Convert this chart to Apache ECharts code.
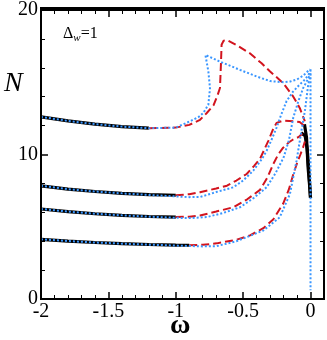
<!DOCTYPE html>
<html>
<head>
    <meta charset="utf-8">
    <title>N vs omega</title>
    <script src="https://cdn.jsdelivr.net/npm/echarts@6/dist/echarts.min.js"></script>
    <style>
        html, body {margin: 0; padding: 0; background: #fff;}
        #main {width: 327px; height: 340px;}
    </style>
</head>
<body>
<div id="main"></div>
<script>
    // axis ranges / tick steps
    var xRange = [-2, 0.1];
    var yRange = [0, 20];
    var xStep = 0.5;
    var yStep = 10;

    // solid black branches (omega, N)
    var black1 = [[-2, 12.6], [-1.8, 12.33], [-1.6, 12.1], [-1.4, 11.93], [-1.2, 11.82]];
    var black2 = [[-2, 7.83], [-1.8, 7.6], [-1.6, 7.44], [-1.4, 7.31], [-1.2, 7.22], [-1.0, 7.18]];
    var black3 = [[-2, 6.23], [-1.8, 6.05], [-1.6, 5.9], [-1.4, 5.79], [-1.2, 5.71], [-1.0, 5.67]];
    var black4 = [[-2, 4.13], [-1.8, 4.01], [-1.6, 3.91], [-1.4, 3.83], [-1.2, 3.77], [-1.0, 3.73], [-0.9, 3.72]];
    var blackTipA = [[-0.045, 12.1], [-0.03, 11.2], [-0.018, 9.1], [-0.008, 8.0], [0.0, 7.0]];
    var blackTipB = [[-0.07, 11.5], [-0.04, 11.3], [-0.025, 10.4], [-0.012, 8.8], [0.0, 7.0]];

    // dashed red branches
    var red1 = [[-1.2, 11.82], [-1.0, 11.86], [-0.9, 12.05], [-0.82, 12.4], [-0.77, 12.87], [-0.72, 13.4],
        [-0.69, 14.1], [-0.672, 14.6], [-0.665, 16.2], [-0.66, 17.6], [-0.645, 17.88], [-0.62, 17.92],
        [-0.548, 17.57], [-0.45, 17.0], [-0.363, 16.31], [-0.3, 15.74], [-0.264, 15.45], [-0.203, 14.94],
        [-0.129, 14.02], [-0.08, 13.22], [-0.042, 12.3]];
    var red2 = [[-1.0, 7.18], [-0.9, 7.25], [-0.82, 7.39], [-0.7, 7.65], [-0.62, 7.84], [-0.55, 8.2],
        [-0.474, 8.65], [-0.42, 9.2], [-0.375, 9.7], [-0.314, 10.93], [-0.28, 11.7], [-0.252, 12.19],
        [-0.2, 12.35], [-0.129, 12.3], [-0.08, 12.25], [-0.05, 12.0]];
    var red3 = [[-1.0, 5.67], [-0.9, 5.7], [-0.82, 5.78], [-0.7, 6.05], [-0.573, 6.35], [-0.47, 6.9],
        [-0.375, 7.55], [-0.32, 8.4], [-0.277, 9.33], [-0.24, 10.0], [-0.203, 10.47], [-0.16, 10.85],
        [-0.129, 11.04], [-0.09, 11.2], [-0.06, 11.45]];
    var red4 = [[-0.9, 3.72], [-0.8, 3.75], [-0.696, 3.85], [-0.55, 4.1], [-0.449, 4.4], [-0.35, 4.9],
        [-0.277, 5.5], [-0.203, 6.6], [-0.16, 7.6], [-0.129, 8.6], [-0.1, 9.4], [-0.075, 10.0],
        [-0.055, 10.5], [-0.042, 10.9]];

    // dotted blue branches
    var blue1 = [[-2, 12.6], [-1.8, 12.33], [-1.6, 12.1], [-1.4, 11.93], [-1.2, 11.82], [-1.0, 11.86],
        [-0.894, 12.3], [-0.83, 12.6], [-0.796, 12.87], [-0.758, 13.45], [-0.746, 14.6], [-0.758, 15.74],
        [-0.78, 16.89], [-0.672, 16.43], [-0.524, 15.86], [-0.4, 15.4], [-0.3, 15.08], [-0.2, 15.0],
        [-0.15, 15.05], [-0.1, 15.2], [-0.055, 15.45], [-0.005, 15.9]];
    var blue2 = [[-2, 7.83], [-1.8, 7.6], [-1.6, 7.44], [-1.4, 7.31], [-1.2, 7.2], [-1.0, 7.1],
        [-0.9, 7.05], [-0.82, 7.06], [-0.7, 7.4], [-0.573, 7.73], [-0.5, 8.2], [-0.425, 8.88],
        [-0.36, 9.7], [-0.326, 10.25], [-0.29, 11.0], [-0.252, 11.86], [-0.22, 12.7], [-0.178, 13.69],
        [-0.13, 14.35], [-0.08, 14.84], [-0.04, 15.2], [-0.01, 15.6], [0, 15.8]];
    var blue3 = [[-2, 6.23], [-1.8, 6.05], [-1.6, 5.9], [-1.4, 5.79], [-1.2, 5.7], [-1.0, 5.62],
        [-0.9, 5.6], [-0.77, 5.67], [-0.65, 5.95], [-0.523, 6.35], [-0.42, 7.0], [-0.326, 7.73],
        [-0.26, 8.7], [-0.2, 9.79], [-0.16, 11.0], [-0.128, 12.55], [-0.09, 13.7], [-0.054, 14.61],
        [-0.02, 15.2], [0, 15.6]];
    var blue4 = [[-2, 4.13], [-1.8, 4.01], [-1.6, 3.91], [-1.4, 3.83], [-1.2, 3.76], [-1.0, 3.7],
        [-0.8, 3.64], [-0.696, 3.66], [-0.55, 4.0], [-0.35, 4.74], [-0.228, 5.66], [-0.153, 7.26],
        [-0.104, 9.55], [-0.07, 11.5], [-0.042, 13.0], [-0.017, 14.84], [0, 15.5]];
    var blueZero = [[0, 15.9], [0, 0.6]];

    var RED = '#d2141e';
    var BLUE = '#3a96ff';

    // frame axis; labels only on bottom/left
    function axisStyle(pos, isX) {
        var range = isX ? xRange : yRange;
        return {
            type: 'value',
            position: pos,
            min: range[0],
            max: range[1],
            interval: isX ? xStep : yStep,
            axisLine: {show: true, onZero: false, lineStyle: {color: '#000', width: 2}},
            axisTick: {show: true, inside: true, length: 7, lineStyle: {color: '#000', width: 1.5}},
            minorTick: {show: true, splitNumber: 5, length: 4, lineStyle: {color: '#000', width: 1}},
            splitLine: {show: false},
            axisLabel: {
                show: pos === 'bottom' || pos === 'left',
                margin: 3,
                color: '#000',
                fontFamily: 'Liberation Serif',
                fontSize: 20
            }
        };
    }

    function line(data, color, type, width) {
        return {
            type: 'line',
            data: data,
            showSymbol: false,
            lineStyle: {color: color, width: width, type: type}
        };
    }

    var series = [];
    [black1, black2, black3, black4, blackTipA, blackTipB].forEach(function (d) {
        series.push(line(d, '#000', 'solid', 3.2));
    });
    [red1, red2, red3, red4].forEach(function (d) {
        series.push(line(d, RED, 'dashed', 2));
    });
    [blue1, blue2, blue3, blue4, blueZero].forEach(function (d) {
        series.push(line(d, BLUE, 'dotted', 2));
    });

    var myChart = echarts.init(document.getElementById('main'));
    myChart.setOption({
        animation: false,
        grid: {left: 41, right: 3, top: 8, bottom: 41},
        xAxis: [axisStyle('bottom', true), axisStyle('top', true)],
        yAxis: [axisStyle('left', false), axisStyle('right', false)],
        series: series,
        graphic: [
            {
                // plot frame
                type: 'rect', z: 100, silent: true,
                shape: {x: 41, y: 8, width: 283, height: 291},
                style: {fill: 'none', stroke: '#000', lineWidth: 2}
            },
            {
                type: 'text', left: 4, top: 70,
                style: {text: 'N', font: 'italic 28px "Liberation Serif"', fill: '#000'}
            },
            {
                type: 'text', left: 170, top: 312,
                style: {text: 'ω', font: 'bold 28px "Liberation Serif"', fill: '#000'}
            },
            {
                type: 'text', left: 63, top: 26,
                style: {
                    text: '{a|Δ}{b|w}{a|=1}',
                    rich: {
                        a: {fontFamily: 'Liberation Serif', fontSize: 16, color: '#000'},
                        b: {fontFamily: 'Liberation Serif', fontStyle: 'italic', fontSize: 11, color: '#000', padding: [8, 0, 0, 0]}
                    }
                }
            }
        ]
    });
</script>
</body>
</html>
